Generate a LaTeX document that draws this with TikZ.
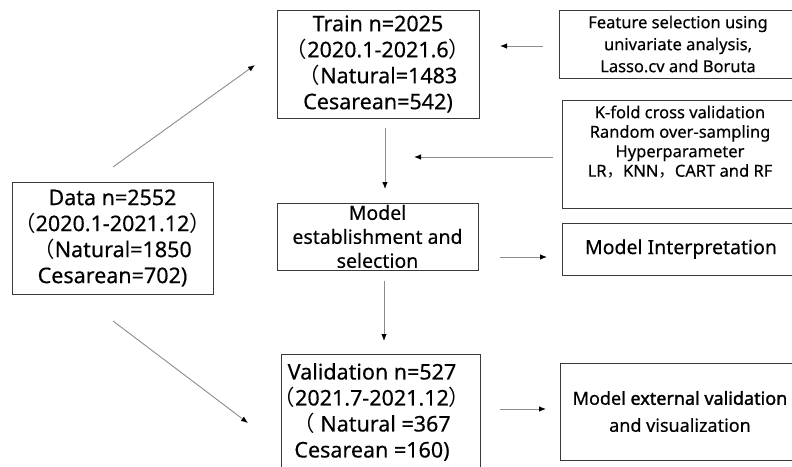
\documentclass[tikz,border=0pt]{standalone}
\usepackage{fontspec}
\setmainfont{Noto Sans}[FakeBold=0.35]
\newfontfamily\cjkfont{Noto Sans CJK SC}
\newfontfamily\heavyfont{Noto Sans}[FakeBold=1.6]
\newcommand\FWlp{{\cjkfont （}}
\newcommand\FWrp{{\cjkfont ）}}
\newcommand\FWcm{{\cjkfont ，}}
\usetikzlibrary{arrows.meta}
\definecolor{boxgray}{HTML}{3A3A3A}
\definecolor{arrgray}{HTML}{8C8C8C}
\begin{document}
\begin{tikzpicture}[x=1pt,y=-1pt,
  box/.style={draw=boxgray, line width=1pt, inner sep=0pt},
  bigtxt/.style={font=\fontsize{21.5}{26}\selectfont, align=center, inner sep=0pt},
  midtxt/.style={font=\fontsize{19.5}{24}\selectfont, align=center, inner sep=0pt},
  smalltxt/.style={font=\fontsize{16.5}{20}\selectfont, align=center, inner sep=0pt},
  arr/.style={draw=arrgray, line width=0.9pt, -{Latex[length=7pt,width=5.5pt,color=black]}}
]
\useasboundingbox (0,0) rectangle (792,466);
\clip (0,0) rectangle (792,466);

% left data box
\node[box, bigtxt, minimum width=201pt, minimum height=112pt] (data) at (112.5,238)
  {Data n=2552\\ \FWlp 2020.1-2021.12\FWrp\\ \FWlp Natural=1850\\ Cesarean=702)};

% train box
\node[box, bigtxt, minimum width=202pt, minimum height=108pt] (train) at (378,64)
  {Train n=2025\\ \FWlp 2020.1-2021.6\FWrp\\ \FWlp Natural=1483\\ Cesarean=542)};

% model establishment box
\node[box, midtxt, minimum width=201pt, minimum height=67pt] (model) at (377.5,236.5)
  {Model\\ establishment and\\ selection};

% validation box
\node[box, minimum width=199pt, minimum height=115pt] (valbox) at (380.5,411.5) {};
\node[bigtxt] (val) at (372,412)
  {Validation n=527\\ \FWlp 2021.7-2021.12\FWrp\\ \FWlp\ Natural =367\\ Cesarean =160)};

% right boxes
\node[box, smalltxt, font=\fontsize{16.5}{22}\selectfont, minimum width=238pt, minimum height=68pt] (feat) at (678,44)
  {Feature selection using\\ univariate analysis,\\ Lasso.cv and Boruta};

\node[box, minimum width=238pt, minimum height=108pt] (kfoldbox) at (681,154) {};
\node[smalltxt, font=\fontsize{16.5}{19.5}\selectfont] (kfold) at (680,142)
  {K-fold cross validation\\ Random over-sampling\\ Hyperparameter\\ LR\FWcm KNN\FWcm CART and RF};

\node[box, midtxt, minimum width=238pt, minimum height=52pt] (interp) at (681,249)
  {Model Interpretation};

\node[box, font=\fontsize{18}{27}\selectfont, align=center, inner sep=0pt, minimum width=240pt, minimum height=97pt] (ext) at (680,411.5)
  {Model {\heavyfont external validation}\\ and visualization};

% arrow end points
\coordinate (a1s) at (113,167);  \coordinate (a1e) at (255,65);
\coordinate (a2s) at (113,321);  \coordinate (a2e) at (248,423);
\coordinate (a3s) at (543,46);   \coordinate (a3e) at (500,46);
\coordinate (a4s) at (553,157);  \coordinate (a4e) at (414,157);
\coordinate (a5s) at (385,128);  \coordinate (a5e) at (385,189);
\coordinate (a6s) at (384,281);  \coordinate (a6e) at (384,341);
\coordinate (a7s) at (500,257);  \coordinate (a7e) at (547,257);
\coordinate (a8s) at (500,409);  \coordinate (a8e) at (546,409);

\draw[arr] (a1s) -- (a1e);
\draw[arr] (a2s) -- (a2e);
\draw[arr] (a3s) -- (a3e);
\draw[arr] (a4s) -- (a4e);
\draw[arr] (a5s) -- (a5e);
\draw[arr] (a6s) -- (a6e);
\draw[arr] (a7s) -- (a7e);
\draw[arr] (a8s) -- (a8e);
\end{tikzpicture}
\end{document}
